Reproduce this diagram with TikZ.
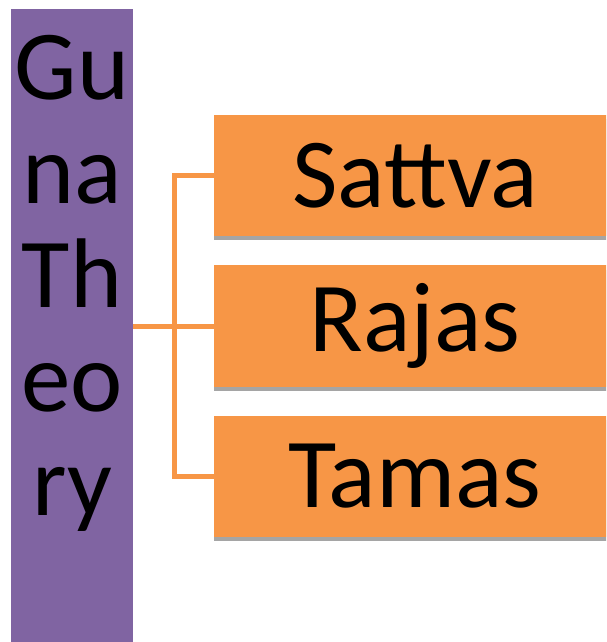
\documentclass[tikz,border=0pt]{standalone}
\usepackage{fontspec}
\setmainfont{Carlito}
\definecolor{gunapurple}{HTML}{8064A2}
\definecolor{gunaorange}{HTML}{F79646}
\definecolor{gunashadow}{HTML}{A5A5A5}
\tikzset{
  bigtext/.style={font=\fontsize{99}{104}\selectfont, text=black},
  gunabox/.style={bigtext, fill=gunaorange, inner sep=0pt,
    minimum width=402pt, minimum height=121.5pt},
  link/.style={draw=gunaorange, line width=5pt}
}
\begin{document}
\begin{tikzpicture}[x=1pt,y=-1pt]
  \path[use as bounding box] (0,0) rectangle (606,642);
  \clip (0,0) rectangle (606,642);

  % left column
  \node[fill=gunapurple, inner sep=0pt, minimum width=122pt,
        minimum height=640pt] (theorybox) at (72,329) {};
  \node[bigtext, align=center, inner sep=0pt] (theory) at (72,283)
    {Gu\\na\\Th\\eo\\ry};

  % bottom edges of the three boxes
  \fill[gunashadow] (214,119) rectangle (616,240);
  \fill[gunashadow] (214,270) rectangle (616,391);
  \fill[gunashadow] (214,420) rectangle (616,541);

  % the three gunas
  \node[gunabox] (sattva) at (415,175.5) {Sattva};
  \node[gunabox] (rajas)  at (415,326)   {Rajas};
  \node[gunabox] (tamas)  at (415,476.5) {Tamas};

  % connectors
  \coordinate (trunk) at (174,326);
  \draw[link] (theorybox.east |- rajas.west) -- (rajas.west);
  \draw[link] (sattva.west) -| (trunk) |- (tamas.west);
\end{tikzpicture}
\end{document}
